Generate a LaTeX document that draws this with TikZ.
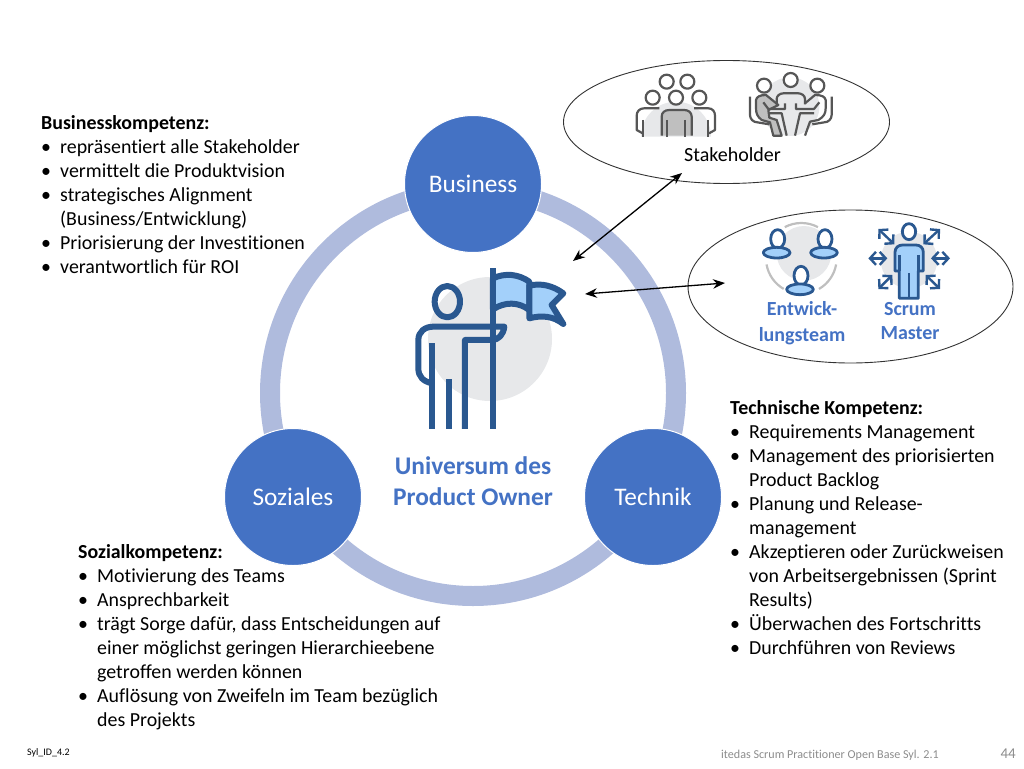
\documentclass[tikz,border=0pt]{standalone}
\usepackage{fontspec}
\setmainfont{Carlito}[Ligatures=NoCommon]
\usetikzlibrary{arrows.meta,shapes.geometric}
\definecolor{circleblue}{HTML}{4472C4}
\definecolor{ringblue}{HTML}{AFBBDD}
\definecolor{icondark}{HTML}{2A5890}
\definecolor{iconlight}{HTML}{A3D0FA}
\definecolor{icongrey}{HTML}{E7E8EA}
\definecolor{linegrey}{HTML}{565656}
\definecolor{footgrey}{HTML}{8C8C8C}
\tikzset{
  area/.style={circle, draw=white, line width=1pt, fill=circleblue, text=white, minimum size=137pt, inner sep=0pt, font=\fontsize{25.3}{28}\selectfont},
  infotext/.style={anchor=north west, inner sep=0pt, align=left, font=\fontsize{19.9}{24}\selectfont},
  groupring/.style={ellipse, draw=black!80, line width=0.9pt, inner sep=0pt},
  teamtext/.style={inner sep=0pt, align=center, text=circleblue, font=\fontsize{20}{26}\selectfont\bfseries},
  bothways/.style={{Stealth[length=12pt,width=9.5pt]}-{Stealth[length=12pt,width=9.5pt]}, line width=1.3pt},
  iconline/.style={draw=icondark, line width=2.8pt, line join=round},
  flagline/.style={draw=icondark, line width=6pt, line join=round},
  crowdline/.style={draw=linegrey, line width=2.2pt, line join=round},
  spreadarrow/.style={icondark, line width=2.4pt, {Straight Barb[length=6pt,width=13pt]}-{Straight Barb[length=6pt,width=13pt]}}
}
\newcommand{\itemdot}{\makebox[19pt][l]{•}}
\newcommand{\itemgap}{\hspace*{19pt}}
\begin{document}
\begin{tikzpicture}[x=1pt,y=-1pt]
    \useasboundingbox (0,0) rectangle (1024,768);

    % Ring behind the three circles
    \draw[ringblue, line width=20pt] (473,393) circle (203);

    % Grey disc and flag figure
    \fill[icongrey] (490,339) circle (62);
    \begin{scope}[shift={(390,250)},x=0.3333pt,y=-0.3333pt]
        \draw[flagline, fill=iconlight] (309,85) .. controls (345,68) and (385,72) .. (418,95) -- (418,180) .. controls (385,155) and (345,155) .. (309,178) -- cycle;
        \draw[flagline, fill=iconlight] (418,107) .. controls (455,98) and (490,108) .. (520,130) -- (485,165) -- (520,222) .. controls (490,198) and (455,195) .. (418,205) -- cycle;
        \draw[flagline] (172,155) ellipse (38 and 47);
        \draw[flagline] (127,400) .. controls (100,395) and (85,380) .. (85,355) -- (85,270) .. controls (85,245) and (105,230) .. (130,230) -- (343,230) .. controls (340,255) and (325,270) .. (305,270) -- (225,270) -- (225,537);
        \draw[flagline] (127,280) -- (127,537);
        \draw[flagline] (176,388) -- (176,537);
        \draw[flagline] (309,55) -- (309,537);
    \end{scope}

    % Circles
    \node (business) [area] at (473,184) {Business};
    \node (soziales) [area] at (293,497) {Soziales};
    \node (technik) [area] at (653,497) {Technik};
    \node (universe) [inner sep=0pt, align=center, text=circleblue, font=\fontsize{25.4}{31}\selectfont\bfseries] at (473,481) {Universum des\\Product Owner};

    % Ellipses
    \node (stakering) [groupring, minimum width=326pt, minimum height=123pt] at (726.5,122) {};
    \node (teamring) [groupring, minimum width=325pt, minimum height=153pt] at (850.5,286.5) {};

    % Stakeholder icons
    \begin{scope}[shift={(630,65)},x=0.3333pt,y=-0.3333pt]
        \fill[icongrey] (33,215) arc[start angle=180, end angle=360, radius=105];
        \draw[crowdline, fill=black!25] (95,212) -- (95,155) .. controls (95,142) and (105,135) .. (118,135) -- (162,135) .. controls (175,135) and (185,142) .. (185,155) -- (185,212);
        \draw[crowdline] (112,165) -- (112,215);
        \draw[crowdline] (165,165) -- (165,215);
        \draw[crowdline] (88,130) -- (42,130) .. controls (28,130) and (20,140) .. (20,152) -- (20,195) -- (38,205);
        \draw[crowdline] (40,165) -- (40,215);
        \draw[crowdline] (192,130) -- (235,130) .. controls (248,130) and (255,140) .. (255,152) -- (255,195) -- (237,205);
        \draw[crowdline] (235,165) -- (235,215);
        \foreach \hx/\hy in {110/50, 172/50, 68/98, 138/98, 208/98}
            \draw[crowdline, fill=white] (\hx,\hy) circle (21);
    \end{scope}
    \begin{scope}[shift={(740,65)},x=0.3333pt,y=-0.3333pt]
        \fill[icongrey] (150,125) circle (88);
        \draw[crowdline, fill=black!25] (48,105) .. controls (50,95) and (60,90) .. (78,90) -- (115,120) -- (85,135) -- (88,158) -- (110,165) -- (125,212) -- (100,212) -- (90,172) -- (65,165) .. controls (52,155) and (48,145) .. (48,130) -- cycle;
        \draw[crowdline] (110,118) -- (110,102) .. controls (110,92) and (120,85) .. (130,85) -- (175,85) .. controls (185,85) and (195,92) .. (195,102) -- (195,118);
        \draw[crowdline] (70,112) -- (85,132) -- (135,132) -- (135,115);
        \draw[crowdline] (168,115) -- (168,132) -- (222,132) -- (238,112);
        \draw[crowdline] (85,145) -- (125,145) -- (140,212);
        \draw[crowdline] (222,145) -- (180,145) -- (165,212);
        \draw[crowdline] (195,212) -- (210,170) -- (235,165) .. controls (252,155) and (257,145) .. (257,130) -- (257,105) .. controls (255,95) and (245,90) .. (225,90) -- (195,115);
        \draw[crowdline] (30,95) -- (30,150) .. controls (30,162) and (40,172) .. (52,172) -- (88,178);
        \draw[crowdline] (275,95) -- (275,150) .. controls (275,162) and (265,172) .. (253,172) -- (217,178);
        \foreach \hx/\hy in {72/62, 152/45, 232/62}
            \draw[crowdline, fill=white] (\hx,\hy) circle (21);
    \end{scope}
    \node (stakelabel) [inner sep=0pt, font=\fontsize{20}{24}\selectfont] at (732.5,155) {Stakeholder};

    % Team icon
    \begin{scope}[shift={(755,215)},x=0.3333pt,y=-0.3333pt]
        \fill[icongrey] (147,115) circle (82);
        \draw[black!25, line width=2.2pt] (139,130) ++(242:106) arc[start angle=242, end angle=298, radius=106];
        \draw[black!25, line width=2.2pt] (139,130) ++(170:106) arc[start angle=170, end angle=120, radius=106];
        \draw[black!25, line width=2.2pt] (139,130) ++(10:106) arc[start angle=10, end angle=60, radius=106];
        \foreach \hx/\hy in {68/72, 210/72, 138/182} {
            \draw[iconline, fill=white] (\hx,\hy) ellipse (21 and 28);
            \draw[iconline, fill=iconlight] (\hx-3,\hy+41) ellipse (40 and 16);
        }
    \end{scope}
    \node (teamlabel) [teamtext] at (802,323) {Entwick-\\lungsteam};

    % Scrum Master icon
    \begin{scope}[shift={(860,215)},x=0.3333pt,y=-0.3333pt]
        \fill[icongrey] (147,135) circle (85);
        \draw[iconline, fill=iconlight] (118,250) -- (118,168) -- (105,168) -- (105,112) .. controls (105,98) and (115,90) .. (128,90) -- (168,90) .. controls (180,90) and (190,98) .. (190,112) -- (190,168) -- (175,168) -- (175,250) -- cycle;
        \draw[iconline] (118,120) -- (118,168);
        \draw[iconline] (175,120) -- (175,168);
        \draw[iconline] (147,175) -- (147,250);
        \draw[iconline, fill=white] (147,50) ellipse (20 and 24);
        \draw[spreadarrow] (55,42) -- (103,88);
        \draw[spreadarrow] (240,42) -- (190,88);
        \draw[spreadarrow] (55,222) -- (97,180);
        \draw[spreadarrow] (240,222) -- (197,180);
        \draw[spreadarrow] (25,130) -- (82,130);
        \draw[spreadarrow] (213,130) -- (270,130);
    \end{scope}
    \node (scrumlabel) [teamtext, font=\fontsize{20}{24}\selectfont\bfseries] at (910,321) {Scrum\\Master};

    % Arrows from the figure to the ellipses
    \coordinate (stakefrom) at (573,261);
    \coordinate (staketo) at (682,173);
    \coordinate (teamfrom) at (585,294);
    \coordinate (teamto) at (725,283);
    \draw[bothways] (stakefrom) -- (staketo);
    \draw[bothways] (teamfrom) -- (teamto);

    % Text blocks
    \node (businesstext) [infotext] at (41,115) {\textbf{Businesskompetenz:}\\
        \itemdot repräsentiert alle Stakeholder\\
        \itemdot vermittelt die Produktvision\\
        \itemdot strategisches Alignment\\
        \itemgap (Business/Entwicklung)\\
        \itemdot Priorisierung der Investitionen\\
        \itemdot verantwortlich für ROI};
    \node (techtext) [infotext] at (730,400) {\textbf{Technische Kompetenz:}\\
        \itemdot Requirements Management\\
        \itemdot Management des priorisierten\\
        \itemgap Product Backlog\\
        \itemdot Planung und Release-\\
        \itemgap management\\
        \itemdot Akzeptieren oder Zurückweisen\\
        \itemgap von Arbeitsergebnissen (Sprint\\
        \itemgap Results)\\
        \itemdot Überwachen des Fortschritts\\
        \itemdot Durchführen von Reviews};
    \node (socialtext) [infotext] at (78,544) {\textbf{Sozialkompetenz:}\\
        \itemdot Motivierung des Teams\\
        \itemdot Ansprechbarkeit\\
        \itemdot trägt Sorge dafür, dass Entscheidungen auf\\
        \itemgap einer möglichst geringen Hierarchieebene\\
        \itemgap getroffen werden können\\
        \itemdot Auflösung von Zweifeln im Team bezüglich\\
        \itemgap des Projekts};

    % Footer
    \node (footid) [anchor=west, inner sep=0pt, font=\fontsize{10}{11}\selectfont] at (27,753) {Syl\_ID\_4.2};
    \node (footname) [anchor=west, inner sep=0pt, text=footgrey, font=\fontsize{12.1}{14}\selectfont] at (721,755) {itedas Scrum Practitioner Open Base Syl. 2.1};
    \node (footpage) [anchor=east, inner sep=0pt, text=footgrey, font=\fontsize{15}{18}\selectfont] at (1016,754) {44};
\end{tikzpicture}
\end{document}
